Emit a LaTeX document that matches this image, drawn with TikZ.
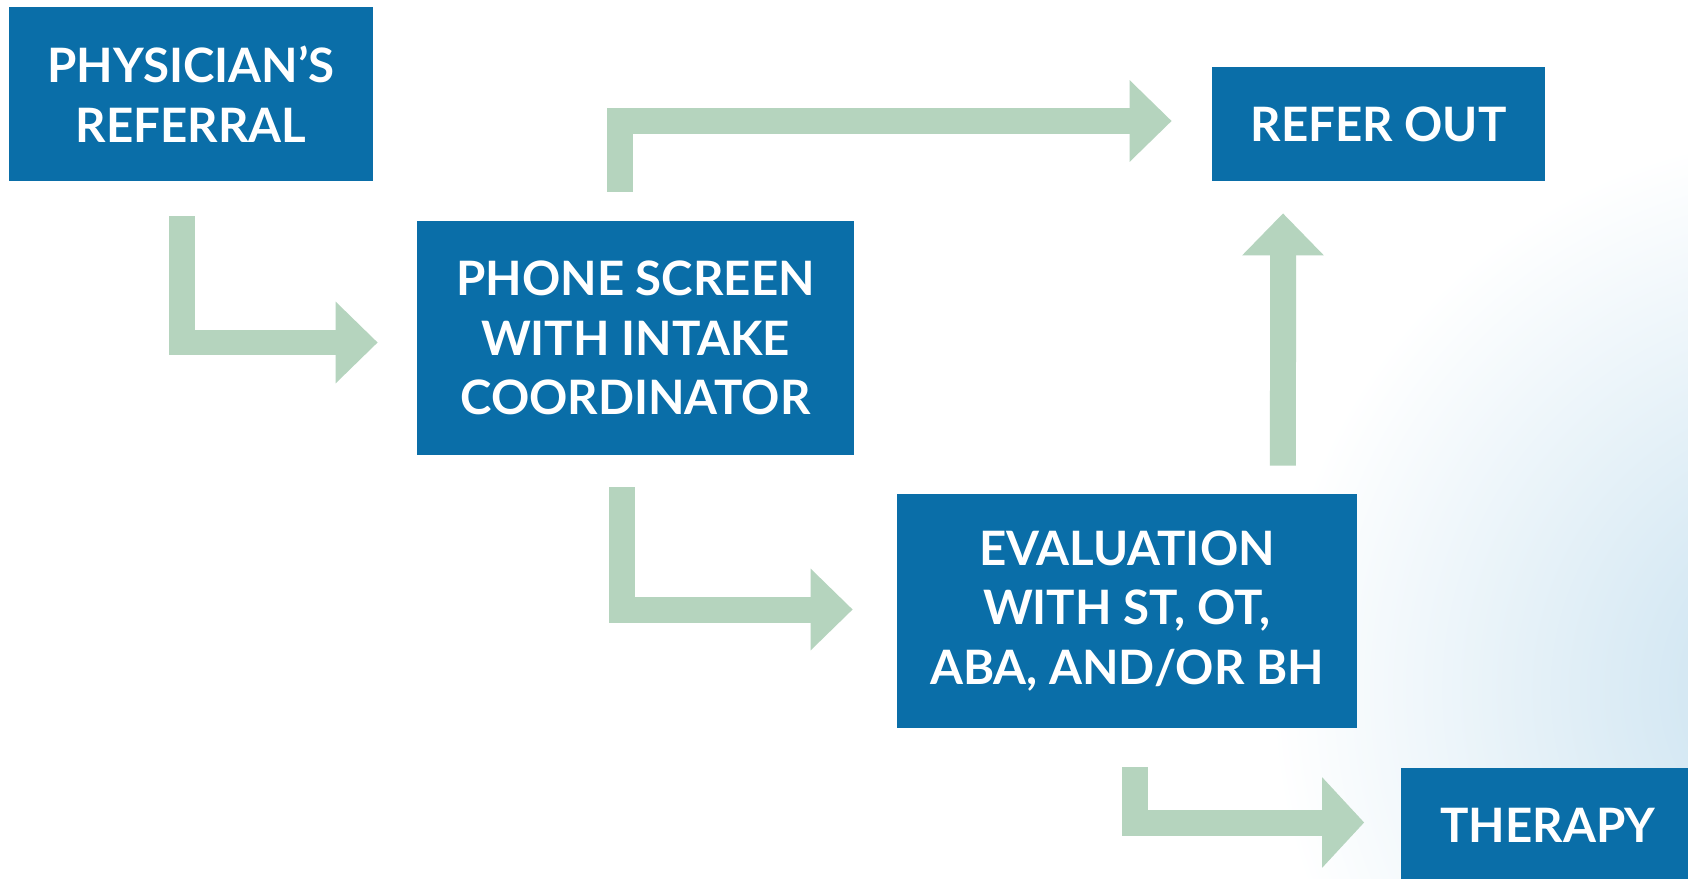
\documentclass[tikz,border=0pt]{standalone}
\usepackage{fontspec}
\newfontfamily\flowfont{Lato}
\usetikzlibrary{arrows.meta, positioning}
\definecolor{boxblue}{RGB}{10,110,168}
\definecolor{arrowgreen}{RGB}{181,212,190}
\definecolor{washblue}{RGB}{198,224,239}
\tikzset{
  stage/.style={fill=boxblue, text=white, align=center, inner sep=0pt,
    font=\flowfont\bfseries\fontsize{27}{34}\selectfont},
  flow/.style={arrowgreen, line width=0.52cm, -{Triangle[length=0.84cm, width=1.58cm]}}
}

\begin{document}
\begin{tikzpicture}[x=0.02cm, y=-0.02cm]
    % page and background wash
    \useasboundingbox (0,0) rectangle (1688,879);
    \clip (0,0) rectangle (1688,879);
    \fill[white] (0,0) rectangle (1688,879);
    \shade[inner color=washblue, outer color=white] (1830,690) circle (560);
    % stages
    \node[stage, minimum width=7.28cm, minimum height=3.48cm] (phys) at (191,94) {PHYSICIAN’S\\REFERRAL};
    \node[stage, minimum width=8.74cm, minimum height=4.68cm] (phone) at (635.5,338) {PHONE SCREEN\\WITH INTAKE\\COORDINATOR};
    \node[stage, minimum width=6.66cm, minimum height=2.28cm] (refer) at (1378.5,124) {REFER OUT};
    \node[stage, minimum width=9.2cm, minimum height=4.68cm] (eval) at (1127,611) {EVALUATION\\WITH ST, OT,\\ABA, AND/OR BH};
    \node[stage, minimum width=5.9cm, minimum height=2.3cm] (ther) at (1548,825) {THERAPY};
    % arrows between the stages
    \draw[flow, shorten <=0.7cm, shorten >=0.78cm] ([xshift=-0.18cm]phys.south) |- ([yshift=-0.09cm]phone.west);
    \draw[flow, shorten <=0.58cm, shorten >=0.8cm] ([xshift=-0.32cm]phone.north) |- ([yshift=0.06cm]refer.west);
    \draw[flow, shorten <=0.56cm, shorten >=0.64cm] ([xshift=3.12cm]eval.north) -- ([xshift=-1.91cm]refer.south);
    \draw[flow, shorten <=0.64cm, shorten >=0.88cm] ([xshift=-0.27cm]phone.south) |- ([yshift=0.03cm]eval.west);
    \draw[flow, shorten <=0.78cm, shorten >=0.72cm, -{Triangle[length=0.84cm, width=1.76cm]}] ([xshift=0.16cm]eval.south) |- ([yshift=0.05cm]ther.west);
\end{tikzpicture}
\end{document}
